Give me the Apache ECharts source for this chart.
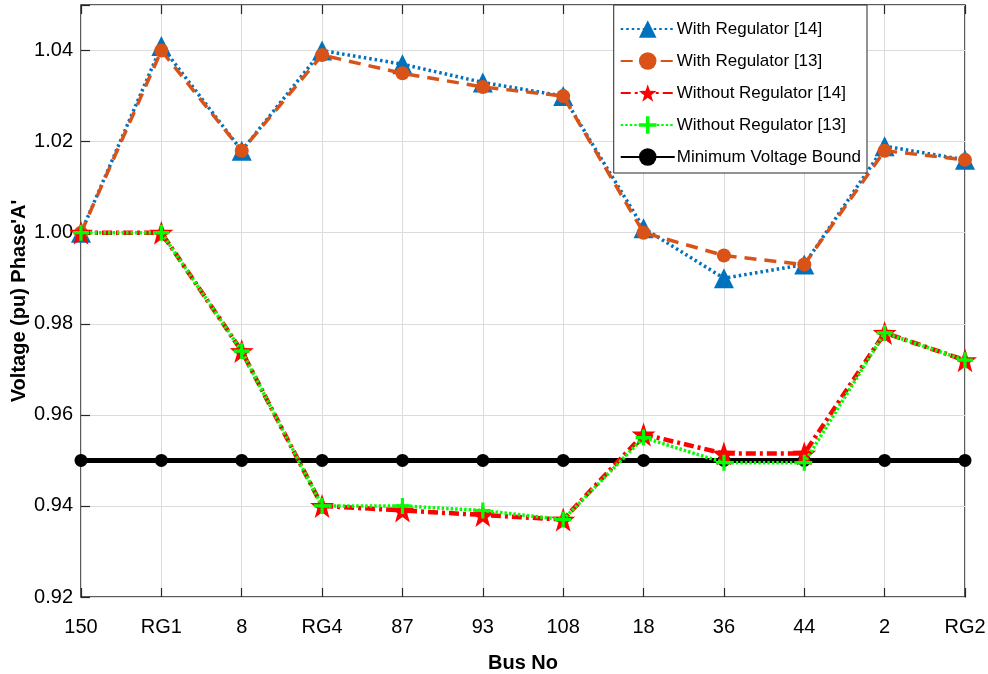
<!DOCTYPE html>
<html>
<head>
<meta charset="utf-8">
<script src="https://cdn.jsdelivr.net/npm/echarts@6/dist/echarts.min.js"></script>
<style>
  html, body { margin: 0; padding: 0; background: #fff; }
  #main { width: 988px; height: 674px; }
</style>
</head>
<body>
<div id="main"></div>
<script>
var buses = ['150', 'RG1', '8', 'RG4', '87', '93', '108', '18', '36', '44', '2', 'RG2'];

var withReg14 = [1.000, 1.041, 1.018, 1.040, 1.037, 1.033, 1.030, 1.001, 0.990, 0.993, 1.019, 1.016];
var withReg13 = [1.000, 1.040, 1.018, 1.039, 1.035, 1.032, 1.030, 1.000, 0.995, 0.993, 1.018, 1.016];
var withoutReg14 = [1.000, 1.000, 0.974, 0.940, 0.939, 0.938, 0.937, 0.9557, 0.9515, 0.9515, 0.978, 0.972];
var withoutReg13 = [1.000, 1.000, 0.974, 0.940, 0.940, 0.939, 0.937, 0.955, 0.9495, 0.9495, 0.978, 0.972];
var minBound = [0.95, 0.95, 0.95, 0.95, 0.95, 0.95, 0.95, 0.95, 0.95, 0.95, 0.95, 0.95];

var yTicks = [0.92, 0.94, 0.96, 0.98, 1.00, 1.02, 1.04];

var myChart = echarts.init(document.getElementById('main'));

var font = 'Liberation Sans';

var tickStyle = { show: true, inside: true, length: 9, lineStyle: { color: '#262626', width: 1.2 } };

var option = {
  animation: false,
  textStyle: { fontFamily: font },
  grid: {
    left: 81, right: 23, top: 5, bottom: 77,
    outerBoundsMode: 'none',
    containLabel: false,
    show: true, borderColor: '#262626', borderWidth: 1.5, backgroundColor: '#fff'
  },
  legend: {
    right: 121, top: 5,
    orient: 'vertical',
    backgroundColor: '#fff',
    borderColor: '#262626',
    borderWidth: 1,
    padding: [13, 6, 5, 6],
    itemGap: 10,
    itemWidth: 54,
    itemHeight: 22,
    textStyle: { fontSize: 17, color: '#000', fontFamily: font, padding: [0, 0, 0, -3], lineHeight: 22 },
    data: ['With Regulator [14]', 'With Regulator [13]', 'Without Regulator [14]', 'Without Regulator [13]', 'Minimum Voltage Bound']
  },
  xAxis: [{
    type: 'category',
    data: buses,
    boundaryGap: false,
    name: 'Bus No',
    nameLocation: 'middle',
    nameGap: 56,
    nameMoveOverlap: false,
    nameTextStyle: { fontSize: 20, fontWeight: 'bold', color: '#000' },
    axisLine: { show: false },
    axisTick: tickStyle,
    axisLabel: { fontSize: 20, color: '#000', margin: 20 },
    splitLine: { show: true, lineStyle: { color: '#dcdcdc', width: 1 } }
  }, {
    type: 'category',
    data: buses,
    boundaryGap: false,
    position: 'top',
    axisLine: { show: false },
    axisTick: tickStyle,
    axisLabel: { show: false },
    splitLine: { show: false }
  }],
  yAxis: {
    type: 'value',
    min: 0.92,
    max: 1.05,
    interval: 0.02,
    name: "Voltage (pu) Phase'A'",
    nameLocation: 'middle',
    nameGap: 52,
    nameMoveOverlap: false,
    nameTextStyle: { fontSize: 20, fontWeight: 'bold', color: '#000' },
    axisLine: { show: false },
    axisTick: tickStyle,
    axisLabel: {
      fontSize: 20, color: '#000', margin: 8,
      formatter: function (v) {
        var r = Math.round(v * 100) / 100;
        return yTicks.indexOf(r) >= 0 && Math.abs(v - r) < 1e-6 ? r.toFixed(2) : '';
      }
    },
    splitLine: { show: true, lineStyle: { color: '#dcdcdc', width: 1 } }
  },
  series: [{
    name: 'With Regulator [14]',
    type: 'line',
    data: withReg14,
    symbol: 'triangle',
    symbolSize: 20,
    itemStyle: { color: '#0072BD' },
    lineStyle: { color: '#0072BD', width: 3.5, type: [2.5, 3] },
    z: 3
  }, {
    name: 'With Regulator [13]',
    type: 'line',
    data: withReg13,
    symbol: 'circle',
    symbolSize: 14,
    itemStyle: { color: '#D95319' },
    lineStyle: { color: '#D95319', width: 3.5, type: [12, 8] },
    z: 4
  }, {
    name: 'Without Regulator [14]',
    type: 'line',
    data: withoutReg14,
    symbol: 'path://M0,-10 L2.35,-3.24 L9.51,-3.09 L3.8,1.24 L5.88,8.09 L0,4 L-5.88,8.09 L-3.8,1.24 L-9.51,-3.09 L-2.35,-3.24 Z',
    symbolSize: 24,
    itemStyle: { color: '#FF0000' },
    lineStyle: { color: '#FF0000', width: 4.5, type: [10, 4, 3, 4] },
    z: 5
  }, {
    name: 'Without Regulator [13]',
    type: 'line',
    data: withoutReg13,
    symbol: 'path://M-1.6,-8 L1.6,-8 L1.6,-1.6 L8,-1.6 L8,1.6 L1.6,1.6 L1.6,8 L-1.6,8 L-1.6,1.6 L-8,1.6 L-8,-1.6 L-1.6,-1.6 Z',
    symbolSize: 16,
    itemStyle: { color: '#00FF00' },
    lineStyle: { color: '#00FF00', width: 3.5, type: [2.5, 2] },
    z: 6
  }, {
    name: 'Minimum Voltage Bound',
    type: 'line',
    data: minBound,
    symbol: 'circle',
    symbolSize: 13,
    itemStyle: { color: '#000' },
    lineStyle: { color: '#000', width: 5 },
    z: 2
  }]
};

myChart.setOption(option);
</script>
</body>
</html>
